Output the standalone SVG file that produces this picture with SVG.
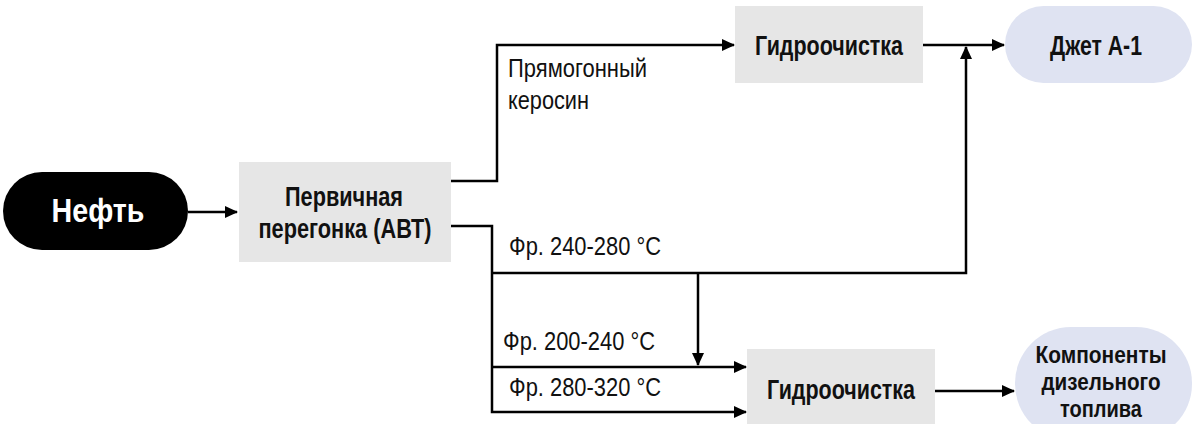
<svg xmlns="http://www.w3.org/2000/svg" width="1199" height="424" viewBox="0 0 1199 424">
<style>
.box{fill:#e6e6e6}
.pill{fill:#dfe3f2}
.b{font-family:"Liberation Sans",Arial,sans-serif;font-weight:bold;font-size:27px;fill:#111;text-anchor:middle}
.k{font-size:23px}
.r{font-family:"Liberation Sans",Arial,sans-serif;font-size:25px;fill:#111}
.c{fill:none;stroke:#000;stroke-width:2.5}
</style>
<defs>
<marker id="ah" markerUnits="userSpaceOnUse" markerWidth="13" markerHeight="12" refX="12" refY="6" orient="auto">
<path d="M0,0 L13,6 L0,12 z" fill="#000"/>
</marker>
</defs>
<rect width="1199" height="424" fill="#fff"/>
<g id="connectors">
<path class="c" d="M188,212 H237" marker-end="url(#ah)"/>
<path class="c" d="M451,181 H497 V45 H734" marker-end="url(#ah)"/>
<path class="c" d="M923,45 H1004" marker-end="url(#ah)"/>
<path class="c" d="M451,226 H492 V412 H746" marker-end="url(#ah)"/>
<path class="c" d="M492,273 H966 V47" marker-end="url(#ah)"/>
<path class="c" d="M492,367 H746" marker-end="url(#ah)"/>
<path class="c" d="M698,273 V365" marker-end="url(#ah)"/>
<path class="c" d="M935,391 H1014" marker-end="url(#ah)"/>
</g>
<g id="neft">
<rect x="3" y="172" width="185" height="78" rx="39" fill="#000"/>
<text x="98" y="222" class="b" style="font-size:34px;fill:#fff" textLength="93" lengthAdjust="spacingAndGlyphs">Нефть</text>
</g>
<g id="pervichnaya">
<rect class="box" x="239" y="162" width="212" height="100"/>
<text x="344" y="206" class="b" textLength="118" lengthAdjust="spacingAndGlyphs">Первичная</text>
<text x="345" y="238" class="b" textLength="173" lengthAdjust="spacingAndGlyphs">перегонка (АВТ)</text>
</g>
<g id="gidro1">
<rect class="box" x="735" y="6" width="188" height="77"/>
<text x="829" y="55" class="b" textLength="148" lengthAdjust="spacingAndGlyphs">Гидроочистка</text>
</g>
<g id="jet">
<rect class="pill" x="1005" y="6" width="187" height="77" rx="38.5"/>
<text x="1096" y="55" class="b" textLength="92" lengthAdjust="spacingAndGlyphs">Джет А-1</text>
</g>
<g id="gidro2">
<rect class="box" x="747" y="349" width="188" height="81"/>
<text x="841" y="399" class="b" textLength="148" lengthAdjust="spacingAndGlyphs">Гидроочистка</text>
</g>
<g id="komponenty">
<rect class="pill" x="1015" y="327" width="177" height="113" rx="56"/>
<text x="1101" y="363" class="b k" textLength="131" lengthAdjust="spacingAndGlyphs">Компоненты</text>
<text x="1101" y="390" class="b k" textLength="119" lengthAdjust="spacingAndGlyphs">дизельного</text>
<text x="1101" y="417" class="b k" textLength="82" lengthAdjust="spacingAndGlyphs">топлива</text>
</g>
<g id="labels">
<text x="508" y="77" class="r" textLength="139" lengthAdjust="spacingAndGlyphs">Прямогонный</text>
<text x="508" y="109" class="r" textLength="81" lengthAdjust="spacingAndGlyphs">керосин</text>
<text x="509" y="255" class="r" textLength="152" lengthAdjust="spacingAndGlyphs">Фр. 240-280 °C</text>
<text x="503" y="350" class="r" textLength="152" lengthAdjust="spacingAndGlyphs">Фр. 200-240 °C</text>
<text x="509" y="396" class="r" textLength="152" lengthAdjust="spacingAndGlyphs">Фр. 280-320 °C</text>
</g>
</svg>
